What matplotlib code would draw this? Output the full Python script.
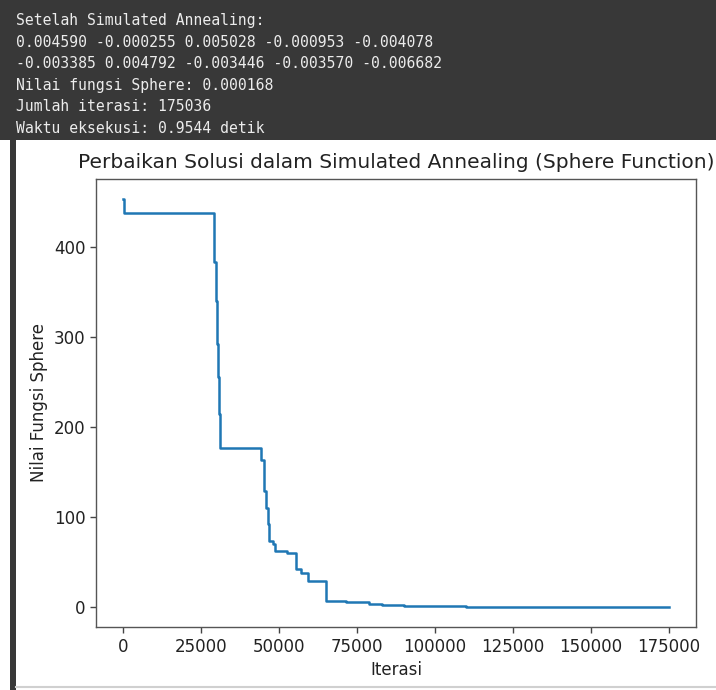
import numpy as np
import matplotlib
matplotlib.use("Agg")
import matplotlib.pyplot as plt
from matplotlib.patches import Rectangle
from matplotlib.lines import Line2D

# console output printed above the plot
console_lines = [
    "Setelah Simulated Annealing:",
    "0.004590 -0.000255 0.005028 -0.000953 -0.004078",
    "-0.003385 0.004792 -0.003446 -0.003570 -0.006682",
    "Nilai fungsi Sphere: 0.000168",
    "Jumlah iterasi: 175036",
    "Waktu eksekusi: 0.9544 detik",
]

# best-so-far value at each improvement (iteration, value)
iterations = [0, 300, 29200, 29700, 29900, 30200, 30500, 30800, 31200,
              44300, 45300, 45700, 46300, 46900, 47900, 48800, 52600,
              55500, 57100, 59200, 64900, 71500, 79000, 83000, 90000,
              110000, 175036]
values = [453, 438, 383, 376, 340, 292, 255, 214, 176,
          163, 129, 110, 92, 73, 70, 61.5, 60,
          42, 37, 28, 6.7, 4.8, 3.0, 1.5, 0.6,
          0.02, 0.000168]

title = "Perbaikan Solusi dalam Simulated Annealing (Sphere Function)"
xlabel = "Iterasi"
ylabel = "Nilai Fungsi Sphere"

W, H = 716, 690
fig = plt.figure(figsize=(W / 100, H / 100), dpi=100)
fig.patch.set_facecolor("white")

# dark console band and left gutter
dark = "#383838"
fig.patches.append(Rectangle((0, 1 - 140 / H), 1, 140 / H, transform=fig.transFigure,
                             facecolor=dark, edgecolor="none", zorder=0))
fig.patches.append(Rectangle((10 / W, 0), 6 / W, 1 - 140 / H, transform=fig.transFigure,
                             facecolor=dark, edgecolor="none", zorder=0))
fig.lines.append(Line2D([16 / W, 1], [3 / H, 3 / H], transform=fig.transFigure,
                        color="#d0d0d0", lw=1.5))

for i, line in enumerate(console_lines):
    y = 20.5 + i * 21.6
    fig.text(16 / W, 1 - y / H, line, color="#ececec", fontsize=10.6,
             family="DejaVu Sans Mono", va="center", ha="left")

ax = fig.add_axes([96 / W, 1 - 627 / H, 600 / W, 448 / H])
ax.plot(iterations, values, drawstyle="steps-post", color="#1f77b4", lw=1.8)

ax.set_title(title, fontsize=14.5, pad=8, color="#222222")
ax.set_xlabel(xlabel, fontsize=12, color="#222222")
ax.set_ylabel(ylabel, fontsize=12, color="#222222")
ax.set_xticks(np.arange(0, 175001, 25000))
ax.set_yticks([0, 100, 200, 300, 400])
ax.tick_params(labelsize=12, length=4.2, width=1.0, color="#444444", labelcolor="#222222")
for s in ax.spines.values():
    s.set_color("#555555")
    s.set_linewidth(1.0)

fig.savefig("out.png", dpi=100)
